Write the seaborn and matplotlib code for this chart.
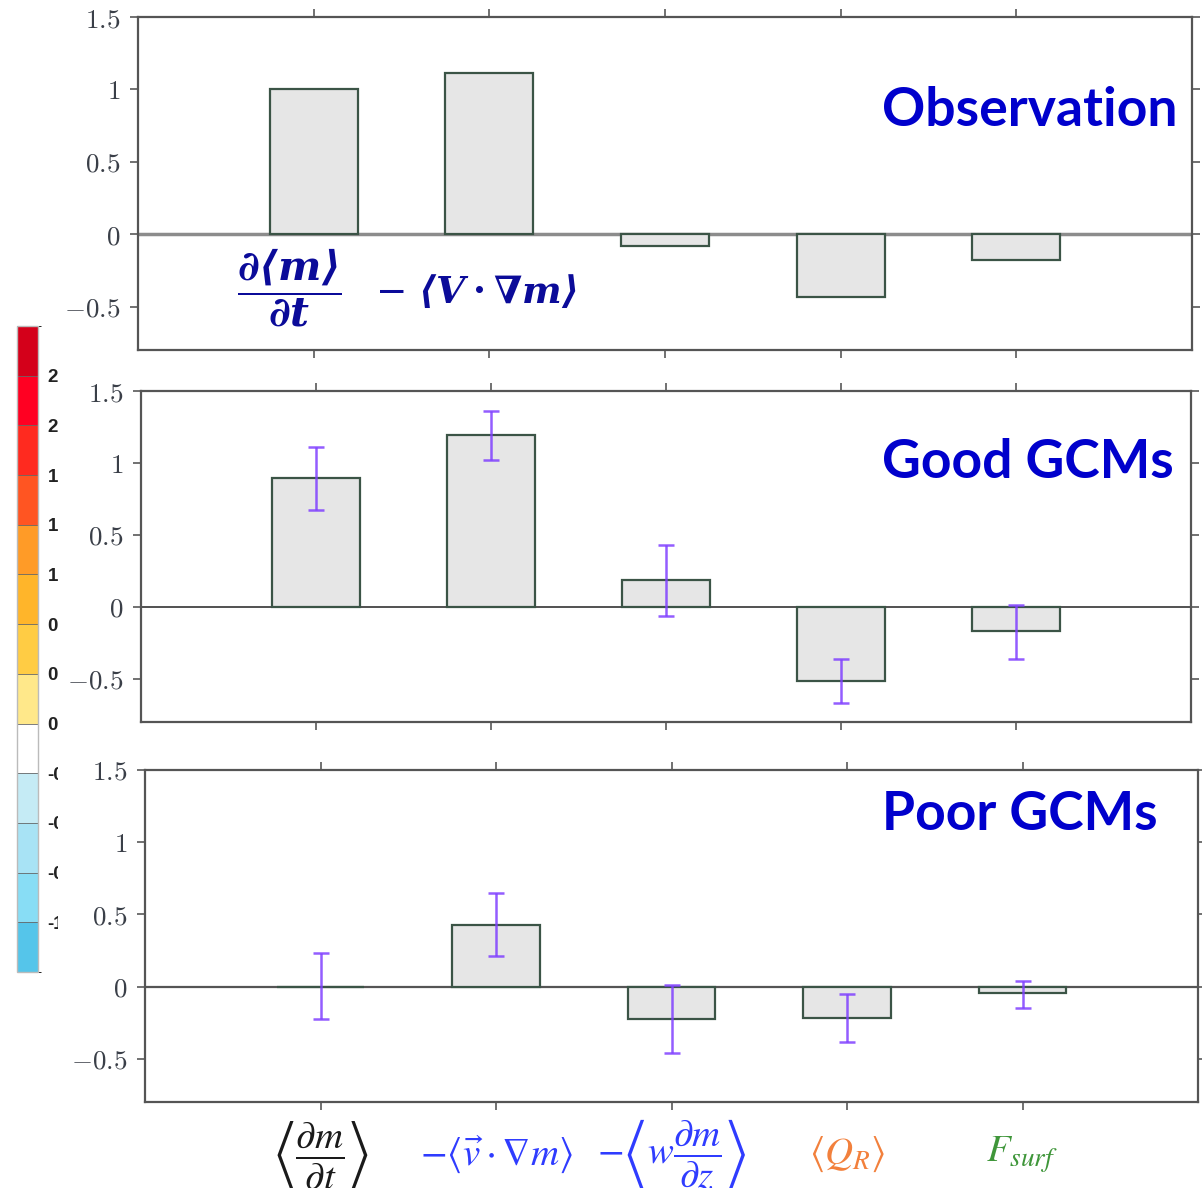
import numpy as np
import seaborn as sns
import matplotlib as mpl
import matplotlib.pyplot as plt
from matplotlib.colors import ListedColormap, BoundaryNorm
from matplotlib.transforms import Bbox, TransformedBbox

# ---------------------------------------------------------------------------#
# data

terms = ["dmdt", "hadv", "vadv", "qr", "fsurf"]
term_labels = [r"$\left\langle\dfrac{\partial m}{\partial t}\right\rangle$",
               r"$-\langle\vec{v}\cdot\nabla m\rangle$",
               r"$-\left\langle w\dfrac{\partial m}{\partial z}\right\rangle$",
               r"$\langle Q_R\rangle$",
               r"$F_{surf}$"]
term_colors = ["#1a1a1a", "#2f3cff", "#2f3cff", "#f2803c", "#3f963a"]

obs = [1.0, 1.115, -0.083, -0.434, -0.179]

good = [0.893, 1.193, 0.188, -0.516, -0.167]
good_lo = [0.67, 1.02, -0.06, -0.67, -0.36]
good_hi = [1.11, 1.36, 0.43, -0.36, 0.01]

poor = [0.0, 0.428, -0.228, -0.221, -0.048]
poor_lo = [-0.228, 0.214, -0.463, -0.387, -0.152]
poor_hi = [0.235, 0.65, 0.014, -0.055, 0.041]

panel_titles = ["Observation", "Good GCMs", "Poor GCMs"]

yticks = [-0.5, 0, 0.5, 1, 1.5]
ytick_text = [r"$-0.5$", r"$0$", r"$0.5$", r"$1$", r"$1.5$"]

# stray colour bar pasted on the left (colours listed top to bottom)
cbar_colors = ["#d4001a", "#ff0022", "#ff2a1f", "#ff5522", "#ff9b27",
               "#ffb52a", "#ffcc44", "#ffe88a", "#ffffff", "#c5ebf5",
               "#a8e3f5", "#88ddf5", "#55c5ea"]
cbar_bounds = [-1.3, -1.0, -0.7, -0.4, -0.1, 0.2, 0.5, 0.8, 1.1, 1.4, 1.7,
               2.0, 2.3, 2.6]

# ---------------------------------------------------------------------------#

plt.rcParams['mathtext.rm'] = 'DejaVu Serif'
plt.rcParams['mathtext.it'] = 'DejaVu Serif:italic'
plt.rcParams['mathtext.bf'] = 'DejaVu Serif:italic:bold'

W, H = 1202, 1188
fig = plt.figure(figsize=(W / 100, H / 100), dpi=100)


def px_axes(l, t, r, b):
    return fig.add_axes([l / W, 1 - b / H, (r - l) / W, (b - t) / H])


def draw_panel(ax, vals, lo=None, hi=None, zero_color="#444444", zero_lw=1.3):
    pos = np.arange(len(terms))
    ax.axhline(0, color=zero_color, lw=zero_lw, zorder=0.5)
    sns.barplot(x=terms, y=vals, ax=ax, width=0.5, color="#e6e6e6",
                saturation=1, edgecolor="#3b5446", linewidth=1.6,
                errorbar=None, zorder=2)
    if lo is not None:
        v = np.array(vals)
        ax.errorbar(pos, v, yerr=[v - np.array(lo), np.array(hi) - v],
                    fmt="none", ecolor="#8040ff", elinewidth=1.8, capsize=5.5,
                    capthick=1.8, alpha=0.85, zorder=3)
    ax.set_xlim(-1, 5)
    ax.set_ylim(-0.8, 1.5)
    ax.set_xticks(pos)
    ax.set_yticks(yticks)
    ax.set_yticklabels(ytick_text)
    for t in ax.get_yticklabels():
        t.set_math_fontfamily('cm')
    ax.tick_params(direction='out', length=6, width=1.3, color="#666666",
                   top=True, right=True, labelsize=19.5,
                   labelcolor="#3a3f48", pad=7)
    for s in ax.spines.values():
        s.set_color("#555555")
        s.set_linewidth(1.6)
    ax.set_xlabel("")
    ax.set_ylabel("")


ax_obs = px_axes(138, 17, 1192, 350)
ax_good = px_axes(141, 391, 1191, 722)
ax_poor = px_axes(145, 770, 1198, 1102)

draw_panel(ax_obs, obs, zero_color="#8c8c8c", zero_lw=2.5)
draw_panel(ax_good, good, good_lo, good_hi, zero_color="#333333", zero_lw=1.2)
draw_panel(ax_poor, poor, poor_lo, poor_hi, zero_color="#555555", zero_lw=1.6)

ax_obs.tick_params(labelbottom=False)
ax_good.tick_params(labelbottom=False)
ax_poor.set_xticklabels(term_labels, fontsize=28)
ax_poor.tick_params(axis='x', pad=32)
for t, c in zip(ax_poor.get_xticklabels(), term_colors):
    t.set_color(c)
    t.set_verticalalignment('center')
    t.set_math_fontfamily('stix')

# panel names
for title, yc in zip(panel_titles, [110, 463, 815]):
    fig.text(882 / W, 1 - yc / H, title, color="#0000cc", fontsize=38.5,
             fontweight='bold', family='Lato', ha='left', va='center')

# budget terms written in the observation panel
navy = "#0b0b99"
fig.text(289 / W, 1 - 288 / H,
         r"$\dfrac{\mathbf{\partial\langle m\rangle}}{\mathbf{\partial t}}$",
         color=navy, fontsize=29.5, ha='center', va='center',
         math_fontfamily='custom')
fig.text(375 / W, 1 - 292 / H, r"$-\ \mathbf{\langle V\cdot\nabla m\rangle}$",
         color=navy, fontsize=27, ha='left', va='center',
         math_fontfamily='custom')

# colour bar
cax = px_axes(17, 326, 38, 972)
cmap = ListedColormap(cbar_colors[::-1])
norm = BoundaryNorm(cbar_bounds, cmap.N)
cb = fig.colorbar(mpl.cm.ScalarMappable(norm=norm, cmap=cmap), cax=cax,
                  ticks=cbar_bounds[1:-1], drawedges=True)
cb.outline.set_edgecolor("#bbbbbb")
cb.outline.set_linewidth(1.0)
cb.dividers.set_color("#666666")
cb.dividers.set_linewidth(0.6)
cb.set_ticklabels([f"{v:.1f}" for v in cbar_bounds[1:-1]])
cax.tick_params(length=0, pad=7, labelsize=13.5)
clip = TransformedBbox(Bbox.from_extents(0, 0, 58 / W, 1), fig.transFigure)
for t in cax.get_yticklabels():
    t.set_fontweight('bold')
    t.set_family('Liberation Sans')
    t.set_color("#222222")
    t.set_clip_box(clip)
    t.set_clip_on(True)

plt.savefig("out.png", dpi=100)
